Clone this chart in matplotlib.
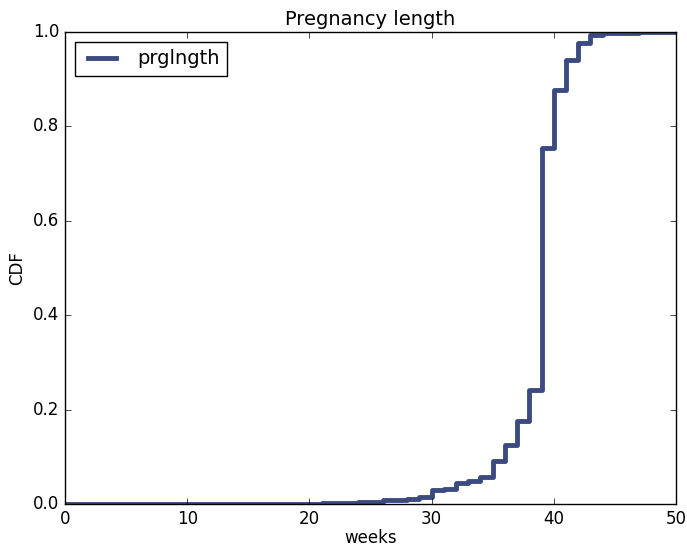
import matplotlib
matplotlib.use("Agg")
import matplotlib.pyplot as plt

# pregnancy length (weeks) and cumulative probability
weeks = [0, 4, 9, 13, 17, 18, 19, 20, 21, 22, 23, 24, 25, 26, 27, 28, 29,
         30, 31, 32, 33, 34, 35, 36, 37, 38, 39, 40, 41, 42, 43, 44, 45,
         46, 47, 48, 50]
cdf = [0.0001, 0.0002, 0.0003, 0.0004, 0.0007, 0.0008, 0.0009, 0.001, 0.0012,
       0.002, 0.0021, 0.0035, 0.0038, 0.0077, 0.008, 0.0115, 0.0138,
       0.0289, 0.0318, 0.0444, 0.0497, 0.0563, 0.0903, 0.1254, 0.1751, 0.2415,
       0.7545, 0.8765, 0.9406, 0.9765, 0.9927, 0.9977, 0.9988,
       0.9989, 0.999, 0.9998, 1.0]

plt.style.use("classic")
fig = plt.figure(figsize=(6.87, 5.47), dpi=100)
ax = fig.add_axes([0.0946, 0.0786, 0.8894, 0.8629])

xs = [0] + weeks
ys = [0] + cdf
ax.step(xs, ys, where="post", color="#3b4a80", linewidth=3.5, label="prglngth")

ax.set_xlim(0, 50)
ax.set_ylim(0, 1)
ax.set_title("Pregnancy length", fontsize=14)
ax.set_xlabel("weeks", fontsize=12, labelpad=1)
ax.set_ylabel("CDF", fontsize=12)
ax.legend(loc="upper left", fontsize=14)

fig.savefig("out.png", dpi=100)
